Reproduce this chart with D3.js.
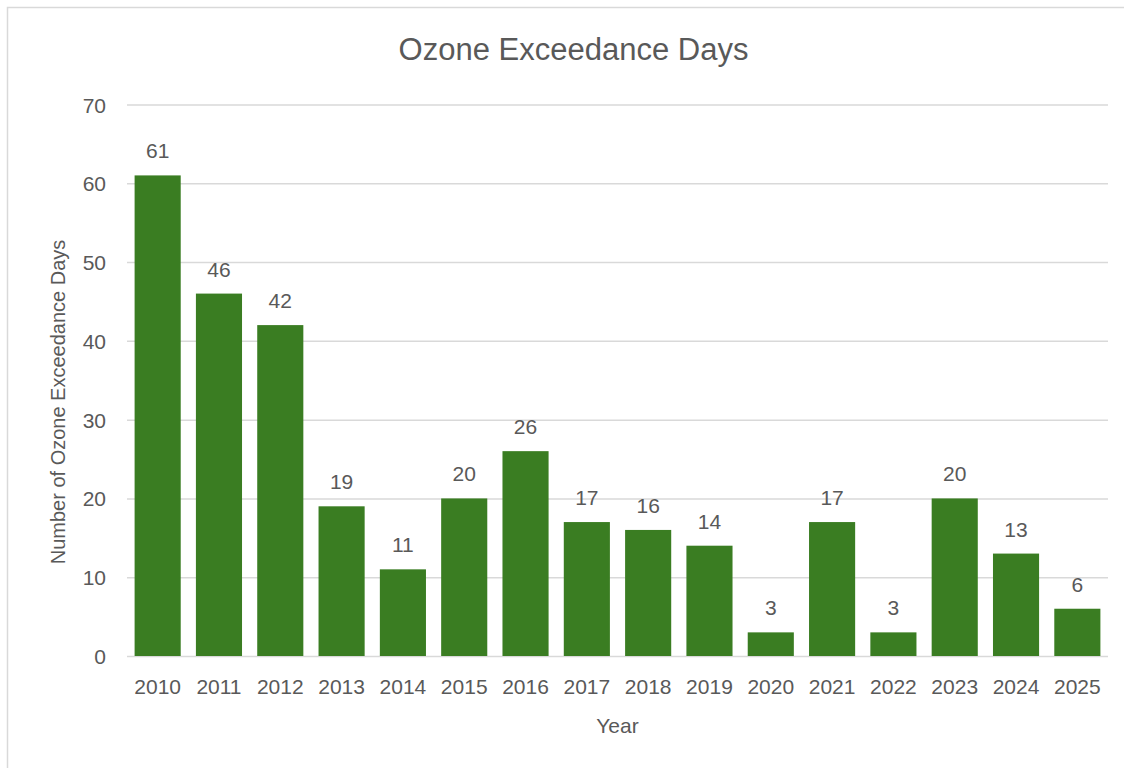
<!DOCTYPE html>
<html>
<head>
<meta charset="utf-8">
<script src="https://cdn.jsdelivr.net/npm/d3@7"></script>
<style>
  html, body { margin: 0; padding: 0; background: #fff; }
  svg { display: block; }
  text { font-family: "Liberation Sans", Arial, sans-serif; fill: #595959; }
</style>
</head>
<body>
<svg id="chart" width="1124" height="768"></svg>
<script>
const years = ["2010","2011","2012","2013","2014","2015","2016","2017","2018","2019","2020","2021","2022","2023","2024","2025"];
const exceedanceDays = [61,46,42,19,11,20,26,17,16,14,3,17,3,20,13,6];
const yTicks = [0,10,20,30,40,50,60,70];
const chartTitle = "Ozone Exceedance Days";
const xTitle = "Year";
const yTitle = "Number of Ozone Exceedance Days";

const W = 1124, H = 768;
const plot = { left: 127, right: 1108, top: 104.5, bottom: 656 };
const svg = d3.select("#chart");

// outer chart border (extends past the bottom/right of the window)
svg.append("rect")
  .attr("x", 7.5).attr("y", 7.5)
  .attr("width", W + 20).attr("height", H + 20)
  .attr("fill", "#fff").attr("stroke", "#d9d9d9").attr("stroke-width", 1.5);

const x = d3.scaleBand()
  .domain(years)
  .range([plot.left, plot.right])
  .paddingInner(0.248)
  .paddingOuter(0.124);

const y = d3.scaleLinear()
  .domain([0, 70])
  .range([plot.bottom, plot.top]);

// gridlines
const yAxis = d3.axisLeft(y)
  .tickValues(yTicks)
  .tickSize(-(plot.right - plot.left))
  .tickPadding(21);

const gy = svg.append("g")
  .attr("transform", `translate(${plot.left},0)`)
  .call(yAxis);
gy.select(".domain").remove();
gy.selectAll(".tick line").attr("stroke", "#d9d9d9").attr("stroke-width", 1.5);
gy.selectAll(".tick text")
  .attr("fill", "#595959")
  .style("font-size", "21px")
  .attr("dy", "0.36em");

// bars
svg.append("g").selectAll("rect")
  .data(years.map((yr, i) => ({ yr, v: exceedanceDays[i] })))
  .join("rect")
  .attr("x", d => x(d.yr))
  .attr("width", x.bandwidth())
  .attr("y", d => y(d.v))
  .attr("height", d => y(0) - y(d.v))
  .attr("fill", "#3a7d22");

// data labels
svg.append("g").selectAll("text")
  .data(years.map((yr, i) => ({ yr, v: exceedanceDays[i] })))
  .join("text")
  .attr("x", d => x(d.yr) + x.bandwidth() / 2)
  .attr("y", d => y(d.v) - 17)
  .attr("text-anchor", "middle")
  .style("font-size", "21px")
  .text(d => d.v);

// x axis
const xAxis = d3.axisBottom(x).tickSize(0).tickPadding(0);
const gx = svg.append("g")
  .attr("transform", `translate(0,${plot.bottom})`)
  .call(xAxis);
gx.select(".domain").remove();
gx.selectAll(".tick text")
  .attr("fill", "#595959")
  .style("font-size", "21px")
  .attr("dy", null)
  .attr("y", 38);

// titles
svg.append("text")
  .attr("x", (plot.left + plot.right) / 2 - 44)
  .attr("y", 60)
  .attr("text-anchor", "middle")
  .style("font-size", "31px")
  .text(chartTitle);

svg.append("text")
  .attr("x", (plot.left + plot.right) / 2)
  .attr("y", 733)
  .attr("text-anchor", "middle")
  .style("font-size", "21px")
  .text(xTitle);

svg.append("text")
  .attr("transform", "translate(65,402) rotate(-90)")
  .attr("text-anchor", "middle")
  .style("font-size", "20px")
  .text(yTitle);
</script>
</body>
</html>
